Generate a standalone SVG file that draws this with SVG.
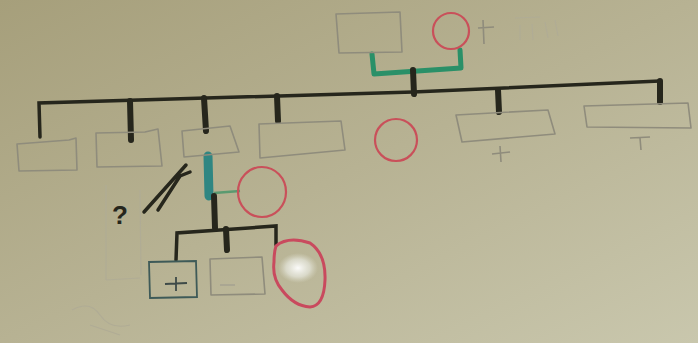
<svg xmlns="http://www.w3.org/2000/svg" width="698" height="343" viewBox="0 0 698 343">
<defs>
<linearGradient id="bg" x1="0" y1="0" x2="1" y2="1">
<stop offset="0" stop-color="#a69f7b"/>
<stop offset="0.5" stop-color="#b7b293"/>
<stop offset="1" stop-color="#c9c7ad"/>
</linearGradient>
<radialGradient id="glare" cx="0.5" cy="0.5" r="0.5">
<stop offset="0" stop-color="#ffffff" stop-opacity="0.95"/>
<stop offset="0.6" stop-color="#eef0ea" stop-opacity="0.6"/>
<stop offset="1" stop-color="#e0e0d0" stop-opacity="0"/>
</radialGradient>
</defs>
<style>
.box{fill:none;stroke:#8f8c7c;stroke-width:1.6;stroke-linejoin:round}
.faint{fill:none;stroke:#b0ac95;stroke-width:1.2}
.red{fill:none;stroke:#c9505a;stroke-width:2.2}
.blk{fill:none;stroke:#26261c;stroke-width:3.5;stroke-linecap:round}
.thick{fill:none;stroke:#26261c;stroke-width:6;stroke-linecap:round}
.grn{fill:none;stroke:#2a9068;stroke-width:5;stroke-linecap:round;stroke-linejoin:round}
.mark{font-family:"Liberation Sans",sans-serif;fill:#8a877a}
</style>
<rect width="698" height="343" fill="url(#bg)"/>

<g id="connectors">
<path class="grn" d="M372,54 L374,74 L461,68 L460,50"/>
<path class="thick" d="M413,70 L414,94"/>
<path class="blk" d="M40,137 L39,103 Q200,98 413,92 Q560,86 660,81"/>
<path class="thick" d="M130,101 L131,140"/>
<path class="thick" d="M204,98 L206,131"/>
<path class="thick" d="M277,96 L278,121"/>
<path class="thick" d="M498,90 L499,112"/>
<path class="thick" d="M660,81 L660,102"/>
<path d="M208,156 L209,196" fill="none" stroke="#2f8682" stroke-width="9" stroke-linecap="round"/>
<path d="M214,193 L240,191" fill="none" stroke="#5a9a70" stroke-width="2.5"/>
<path class="thick" d="M214,196 L215,228"/>
<path class="blk" d="M176,260 L177,233 L276,226 L276,245"/>
<path class="thick" d="M226,229 L227,250"/>
<path d="M144,212 L186,165 M158,210 L180,176 L190,172" fill="none" stroke="#26261c" stroke-width="3.5" stroke-linecap="round" stroke-linejoin="round"/>
</g>

<g id="parent-father"><path class="box" d="M336,14 L400,12 L402,52 L339,53 Z"/></g>
<g id="parent-mother"><circle class="red" cx="451" cy="31" r="18"/></g>
<g id="mark-top"><path d="M483,20 L484,44 M478,28 L494,27" fill="none" stroke="#8f8c7c" stroke-width="1.6"/></g>
<g id="faint-top"><path class="faint" d="M515,18 L540,17 M520,25 L520,40 M532,24 L533,40 M545,22 L548,38 M555,20 L558,36"/></g>

<g id="child1"><path class="box" d="M17,144 L69,140 L76,138 L77,170 L19,171 Z"/></g>
<g id="child2"><path class="box" d="M96,133 L145,132 L158,129 L162,166 L97,167 Z"/></g>
<g id="child3"><path class="box" d="M182,131 L230,126 L239,152 L184,157 Z"/></g>
<g id="child4"><path class="box" d="M259,124 L341,121 L345,150 L260,158 Z"/></g>
<g id="child5"><circle class="red" cx="396" cy="140" r="21"/></g>
<g id="child6"><path class="box" d="M456,115 L548,110 L555,134 L462,142 Z"/><path d="M492,154 L510,152 M500,146 L501,162" fill="none" stroke="#8f8c7c" stroke-width="1.6"/></g>
<g id="child7"><path class="box" d="M584,106 L688,103 L691,128 L587,127 Z"/><path d="M630,138 L650,137 M640,138 L641,150" fill="none" stroke="#8f8c7c" stroke-width="1.6"/></g>

<g id="spouse"><ellipse class="red" cx="262" cy="192" rx="24" ry="25" stroke-width="3"/></g>

<g id="gc1"><path d="M149,262 L196,261 L197,297 L150,298 Z" fill="none" stroke="#3e5a58" stroke-width="1.8"/><path d="M165,284 L187,283 M176,277 L176,291" fill="none" stroke="#3e4a48" stroke-width="1.8"/></g>
<g id="gc2"><path class="box" d="M210,259 L262,257 L265,294 L211,295 Z"/><path d="M220,285 L235,285" fill="none" stroke="#a09d8f" stroke-width="1.2"/></g>
<g id="gc3"><ellipse cx="298" cy="268" rx="20" ry="15" fill="url(#glare)"/><path d="M276,246 Q288,236 310,243 Q326,254 325,280 Q324,306 310,307 Q294,306 282,290 Q272,278 274,262 Q274,252 276,246 Z" fill="none" stroke="#c94a5e" stroke-width="3"/></g>

<g id="question"><text x="112" y="224" font-family="Liberation Sans,sans-serif" font-size="26" font-weight="bold" fill="#26261c">?</text></g>
<g id="faint-left"><path class="faint" d="M106,185 L106,280 M140,190 L141,275 M106,280 L140,278"/><path class="faint" d="M72,310 Q90,300 100,315 Q110,330 130,325 M90,325 L120,335"/></g>
</svg>
